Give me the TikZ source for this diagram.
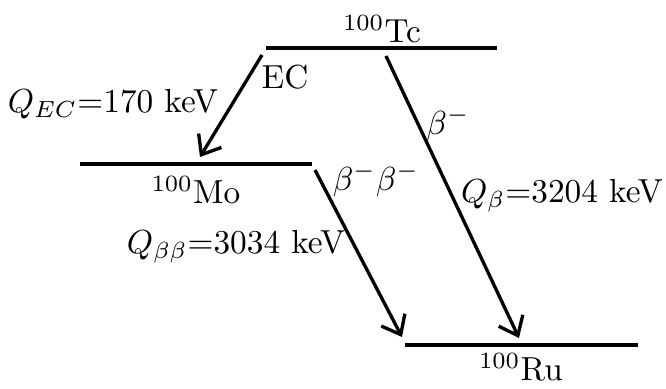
\documentclass[tikz,border=0pt]{standalone}
\usetikzlibrary{arrows.meta}
\begin{document}
\begin{tikzpicture}[x=0.3pt,y=-0.3pt,
  level/.style={line width=1pt},
  decay/.style={line width=1pt,-{Straight Barb[length=5pt,width=8pt,line width=1pt]}},
  lbl/.style={inner sep=0pt,font=\fontsize{10}{12}\selectfont}]
\useasboundingbox (0,0) rectangle (666,388);
% levels
\coordinate (tcL) at (266,48); \coordinate (tcR) at (497,48);
\coordinate (moL) at (80,164); \coordinate (moR) at (312,164);
\coordinate (ruL) at (405,345); \coordinate (ruR) at (638,345);
\draw[level] (tcL) -- (tcR);
\draw[level] (moL) -- (moR);
\draw[level] (ruL) -- (ruR);
\node[lbl] (tc) at (382,29) {$^{100}$Tc};
\node[lbl] (mo) at (196,190) {$^{100}$Mo};
\node[lbl] (ru) at (521,367) {$^{100}$Ru};
% arrows
\coordinate (ecS) at (262,55); \coordinate (ecE) at (200,157);
\coordinate (bS) at (386,56); \coordinate (bE) at (519,338);
\coordinate (bbS) at (315,170); \coordinate (bbE) at (402,337);
\draw[decay] (ecS) -- (ecE);
\draw[decay] (bS) -- (bE);
\draw[decay] (bbS) -- (bbE);
% labels
\node[lbl] (ec) at (285,77) {EC};
\node[lbl] (qec) at (113,104) {$Q_{EC}$=170 keV};
\node[lbl] (bm) at (448,124) {$\beta^-$};
\node[lbl] (qb) at (562,196) {$Q_{\beta}$=3204 keV};
\node[lbl] (bb) at (376,180) {$\beta^-\beta^-$};
\node[lbl] (qbb) at (236,247) {$Q_{\beta\beta}$=3034 keV};
\end{tikzpicture}
\end{document}
